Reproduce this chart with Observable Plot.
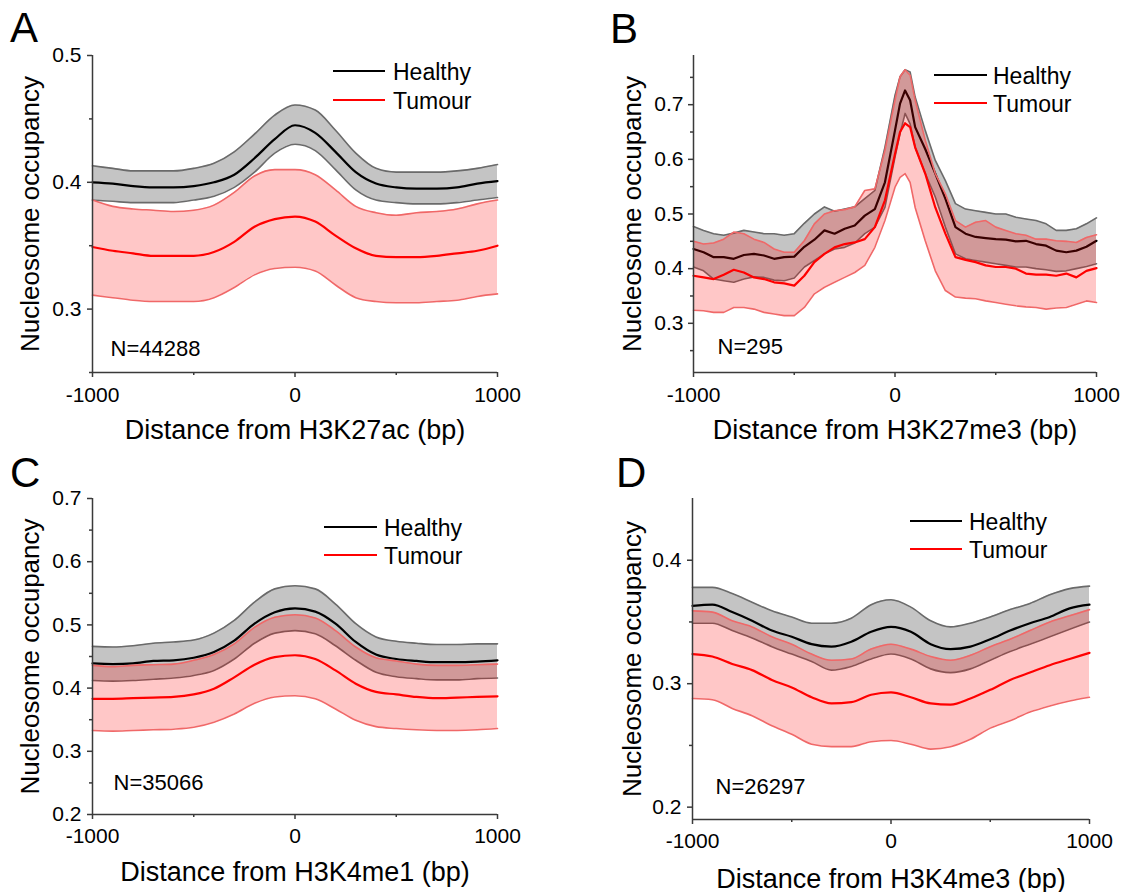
<!DOCTYPE html>
<html><head><meta charset="utf-8">
<script src="https://cdn.jsdelivr.net/npm/d3@7"></script>
<script src="https://cdn.jsdelivr.net/npm/@observablehq/plot@0.6"></script>
<style>
body{margin:0;background:#fff;}
#wrap{position:relative;width:1126px;height:892px;overflow:hidden;background:#fff;font-family:"Liberation Sans",Arial,sans-serif;}
#wrap svg{position:absolute;}
</style></head><body><div id="wrap"></div>
<script>
// ---------- data ----------
const seriesNames = ["Healthy", "Tumour"];
const xTicksMajor = [-1000, 0, 1000];
const xTicksMinor = [-500, 500];

const x100 = [-1000,-900,-800,-700,-600,-500,-400,-300,-200,-100,0,100,200,300,400,500,600,700,800,900,1000];

// Panel A: H3K27ac
const hA_mean  = [0.400,0.399,0.397,0.396,0.396,0.397,0.400,0.406,0.419,0.434,0.445,0.439,0.424,0.408,0.399,0.396,0.395,0.395,0.396,0.399,0.401];
const hA_upper = [0.413,0.411,0.409,0.409,0.409,0.411,0.415,0.424,0.438,0.453,0.461,0.457,0.441,0.423,0.411,0.408,0.408,0.408,0.409,0.411,0.414];
const hA_lower = [0.386,0.385,0.384,0.384,0.384,0.386,0.389,0.396,0.408,0.423,0.430,0.425,0.410,0.394,0.386,0.384,0.383,0.383,0.384,0.386,0.388];
const tA_mean  = [0.349,0.346,0.344,0.342,0.342,0.342,0.345,0.353,0.365,0.371,0.373,0.369,0.358,0.348,0.342,0.341,0.341,0.342,0.344,0.346,0.350];
const tA_upper = [0.386,0.381,0.379,0.378,0.377,0.378,0.382,0.392,0.405,0.410,0.410,0.406,0.394,0.381,0.376,0.374,0.376,0.377,0.379,0.383,0.386];
const tA_lower = [0.311,0.309,0.307,0.306,0.306,0.306,0.309,0.317,0.327,0.332,0.333,0.330,0.319,0.309,0.306,0.305,0.305,0.306,0.307,0.310,0.312];
const yA_major = [0.3, 0.4, 0.5];
const yA_minor = [0.25, 0.35, 0.45];

// Panel B: H3K27me3
const xB = [-1000,-950,-900,-850,-800,-750,-700,-650,-600,-550,-500,-450,-400,-350,-300,-250,-200,-150,-100,-50,0,25,50,75,100,150,200,250,300,350,400,450,500,550,600,650,700,750,800,850,900,950,1000];
const hB_mean  = [0.436,0.430,0.421,0.421,0.418,0.425,0.427,0.424,0.418,0.421,0.422,0.440,0.453,0.470,0.464,0.473,0.479,0.497,0.509,0.558,0.653,0.702,0.726,0.708,0.659,0.619,0.574,0.528,0.476,0.464,0.458,0.456,0.454,0.453,0.450,0.451,0.445,0.442,0.433,0.430,0.433,0.440,0.451];
const hB_upper = [0.477,0.470,0.464,0.461,0.465,0.470,0.467,0.464,0.464,0.461,0.464,0.483,0.500,0.513,0.505,0.509,0.513,0.528,0.543,0.622,0.717,0.751,0.764,0.760,0.714,0.653,0.598,0.561,0.519,0.509,0.506,0.503,0.500,0.500,0.494,0.491,0.488,0.482,0.470,0.470,0.473,0.482,0.493];
const hB_lower = [0.403,0.396,0.381,0.378,0.375,0.381,0.385,0.384,0.379,0.378,0.383,0.403,0.415,0.427,0.436,0.439,0.447,0.464,0.476,0.512,0.604,0.647,0.684,0.665,0.622,0.574,0.531,0.476,0.427,0.418,0.415,0.412,0.409,0.406,0.403,0.403,0.400,0.398,0.395,0.396,0.400,0.404,0.409];
const tB_mean  = [0.387,0.384,0.381,0.389,0.398,0.393,0.384,0.381,0.375,0.373,0.369,0.387,0.412,0.427,0.439,0.445,0.448,0.454,0.476,0.525,0.610,0.650,0.666,0.659,0.622,0.574,0.512,0.464,0.421,0.416,0.412,0.406,0.403,0.403,0.400,0.391,0.389,0.389,0.387,0.391,0.384,0.396,0.401];
const tB_upper = [0.450,0.445,0.447,0.454,0.467,0.464,0.454,0.448,0.436,0.430,0.430,0.451,0.482,0.500,0.506,0.508,0.513,0.543,0.546,0.616,0.708,0.751,0.764,0.754,0.708,0.635,0.574,0.537,0.488,0.476,0.485,0.488,0.476,0.470,0.464,0.461,0.454,0.454,0.451,0.450,0.448,0.457,0.462];
const tB_lower = [0.324,0.323,0.320,0.320,0.329,0.329,0.326,0.320,0.317,0.314,0.314,0.329,0.354,0.366,0.375,0.384,0.393,0.406,0.439,0.488,0.549,0.567,0.574,0.558,0.512,0.451,0.396,0.360,0.348,0.346,0.345,0.341,0.338,0.335,0.332,0.330,0.329,0.326,0.328,0.329,0.335,0.341,0.338];
const yB_major = [0.3, 0.4, 0.5, 0.6, 0.7];
const yB_minor = [0.25, 0.35, 0.45, 0.55, 0.65, 0.75];

// Panel C: H3K4me1
const hC_mean  = [0.439,0.438,0.439,0.443,0.444,0.448,0.457,0.475,0.502,0.520,0.526,0.521,0.502,0.473,0.453,0.446,0.443,0.441,0.441,0.442,0.444];
const hC_upper = [0.466,0.465,0.467,0.471,0.473,0.476,0.487,0.507,0.536,0.557,0.562,0.557,0.533,0.502,0.481,0.474,0.471,0.469,0.469,0.470,0.470];
const hC_lower = [0.412,0.411,0.412,0.414,0.416,0.420,0.428,0.446,0.471,0.487,0.491,0.486,0.467,0.444,0.425,0.418,0.415,0.413,0.413,0.415,0.416];
const tC_mean  = [0.383,0.383,0.384,0.385,0.386,0.390,0.399,0.417,0.437,0.449,0.452,0.446,0.428,0.407,0.394,0.390,0.386,0.384,0.385,0.386,0.387];
const tC_upper = [0.436,0.434,0.436,0.437,0.438,0.444,0.453,0.470,0.496,0.512,0.516,0.511,0.491,0.465,0.448,0.443,0.438,0.436,0.436,0.437,0.438];
const tC_lower = [0.333,0.332,0.333,0.334,0.335,0.338,0.346,0.359,0.376,0.386,0.388,0.383,0.367,0.349,0.339,0.336,0.334,0.333,0.333,0.334,0.336];
const yC_major = [0.2, 0.3, 0.4, 0.5, 0.6, 0.7];
const yC_minor = [0.25, 0.35, 0.45, 0.55, 0.65];

// Panel D: H3K4me3
const hD_mean  = [0.363,0.364,0.358,0.351,0.343,0.338,0.332,0.330,0.334,0.342,0.346,0.342,0.332,0.328,0.330,0.336,0.343,0.349,0.354,0.361,0.364];
const hD_upper = [0.378,0.378,0.373,0.366,0.359,0.354,0.349,0.349,0.353,0.364,0.368,0.362,0.351,0.346,0.349,0.354,0.360,0.365,0.372,0.377,0.379];
const hD_lower = [0.349,0.349,0.343,0.337,0.330,0.324,0.318,0.311,0.314,0.320,0.324,0.320,0.312,0.309,0.312,0.319,0.326,0.332,0.338,0.344,0.350];
const tD_mean  = [0.324,0.322,0.316,0.311,0.303,0.297,0.289,0.284,0.285,0.291,0.293,0.289,0.284,0.283,0.288,0.295,0.303,0.309,0.315,0.320,0.325];
const tD_upper = [0.359,0.358,0.351,0.346,0.338,0.332,0.324,0.319,0.320,0.328,0.332,0.328,0.322,0.319,0.323,0.330,0.336,0.343,0.350,0.355,0.360];
const tD_lower = [0.288,0.287,0.280,0.274,0.266,0.259,0.251,0.249,0.249,0.253,0.254,0.251,0.247,0.249,0.255,0.264,0.270,0.277,0.282,0.286,0.289];
const yD_major = [0.2, 0.3, 0.4];
const yD_minor = [0.25, 0.35];

// ---------- rendering ----------
const FONT = '"Liberation Sans", Arial, sans-serif';
const AXIS = "#3a3a3a";
const fmtY = d3.format(".1f");

const panels = [
  {letter:"A", left:0, top:0, x:x100, hm:hA_mean, hu:hA_upper, hl:hA_lower, tm:tA_mean, tu:tA_upper, tl:tA_lower,
   yDomain:[0.25,0.5], yMajor:yA_major, yMinor:yA_minor, curve:"monotone-x",
   m:{l:92,r:66,t:55,b:74}, xLabel:"Distance from H3K27ac (bp)", xLabelDy:66, yLabelDx:-62,
   nLabel:"N=44288", nDx:18, nDy:-17, xTickDy:15, yTickDx:-11,
   legend:{x1:333,x2:385,y1:71,y2:100,tx:393}, letterPos:[10,42]},
  {letter:"B", left:563, top:0, x:xB, hm:hB_mean, hu:hB_upper, hl:hB_lower, tm:tB_mean, tu:tB_upper, tl:tB_lower,
   yDomain:[0.21,0.79], yMajor:yB_major, yMinor:yB_minor, curve:"linear",
   m:{l:130,r:30,t:55,b:74}, xLabel:"Distance from H3K27me3 (bp)", xLabelDy:66, yLabelDx:-61,
   nLabel:"N=295", nDx:24, nDy:-19, xTickDy:15, yTickDx:-10,
   legend:{x1:371,x2:424,y1:75,y2:103,tx:430}, letterPos:[47,43]},
  {letter:"C", left:0, top:446, x:x100, hm:hC_mean, hu:hC_upper, hl:hC_lower, tm:tC_mean, tu:tC_upper, tl:tC_lower,
   yDomain:[0.2,0.7], yMajor:yC_major, yMinor:yC_minor, curve:"monotone-x",
   m:{l:92,r:66,t:52,b:78}, xLabel:"Distance from H3K4me1 (bp)", xLabelDy:66, yLabelDx:-62,
   nLabel:"N=35066", nDx:21, nDy:-25, xTickDy:14, yTickDx:-11,
   legend:{x1:324,x2:377,y1:81,y2:109,tx:384}, letterPos:[10,41]},
  {letter:"D", left:563, top:446, x:x100, hm:hD_mean, hu:hD_upper, hl:hD_lower, tm:tD_mean, tu:tD_upper, tl:tD_lower,
   yDomain:[0.19,0.45], yMajor:yD_major, yMinor:yD_minor, curve:"monotone-x",
   m:{l:129,r:37,t:52,b:73}, xLabel:"Distance from H3K4me3 (bp)", xLabelDy:68, yLabelDx:-60,
   nLabel:"N=26297", nDx:23, nDy:-26, xTickDy:14, yTickDx:-11,
   legend:{x1:347,x2:399,y1:75,y2:103,tx:406}, letterPos:[53,41]}
];

const wrap = document.getElementById("wrap");

for (const p of panels) {
  const rows = p.x.map((x, i) => ({x, hm:p.hm[i], hu:p.hu[i], hl:p.hl[i], tm:p.tm[i], tu:p.tu[i], tl:p.tl[i]}));
  const curve = p.curve;
  const svg = Plot.plot({
    width: 563, height: 446,
    marginLeft: p.m.l, marginRight: p.m.r, marginTop: p.m.t, marginBottom: p.m.b,
    style: {fontFamily: FONT, fontSize: "21px", background: "transparent", overflow: "visible", maxWidth: "none"},
    x: {domain: [-1000, 1000], axis: null},
    y: {domain: p.yDomain, axis: null},
    marks: [
      Plot.areaY(rows, {x:"x", y1:"hl", y2:"hu", fill:"#c4c4c4", curve}),
      Plot.lineY(rows, {x:"x", y:"hu", stroke:"#6a6a6a", strokeWidth:1.6, curve}),
      Plot.lineY(rows, {x:"x", y:"hl", stroke:"#6a6a6a", strokeWidth:1.6, curve}),
      Plot.lineY(rows, {x:"x", y:"hm", stroke:"#000", strokeWidth:2.2, curve}),
      Plot.areaY(rows, {x:"x", y1:"tl", y2:"tu", fill:"#ff0000", fillOpacity:0.22, curve}),
      Plot.lineY(rows, {x:"x", y:"tu", stroke:"#f06868", strokeWidth:1.6, curve}),
      Plot.lineY(rows, {x:"x", y:"tl", stroke:"#f06868", strokeWidth:1.6, curve}),
      Plot.lineY(rows, {x:"x", y:"tm", stroke:"#ff0000", strokeWidth:2.2, curve}),
      Plot.ruleX([-1000], {stroke: AXIS, strokeWidth: 1.5}),
      Plot.ruleY([p.yDomain[0]], {stroke: AXIS, strokeWidth: 1.5}),
      Plot.axisX({ticks: xTicksMajor, tickSize: 5, tickFormat: () => "", label: null, stroke: AXIS, strokeWidth: 1.5}),
      Plot.axisX({ticks: xTicksMinor, tickSize: 3, tickFormat: () => "", label: null, stroke: AXIS, strokeWidth: 1.5}),
      Plot.axisY({ticks: p.yMajor, tickSize: 5, tickFormat: () => "", label: null, stroke: AXIS, strokeWidth: 1.5}),
      Plot.axisY({ticks: p.yMinor, tickSize: 3, tickFormat: () => "", label: null, stroke: AXIS, strokeWidth: 1.5}),
      // tick labels
      Plot.text(xTicksMajor, {x: d => d, text: d => String(d), frameAnchor: "bottom", lineAnchor: "top", textAnchor: "middle",
                              dy: p.xTickDy, fontSize: 21, fill: "#000"}),
      Plot.text(p.yMajor, {y: d => d, text: d => fmtY(d), frameAnchor: "left", lineAnchor: "middle", textAnchor: "end",
                           dx: p.yTickDx, fontSize: 21, fill: "#000"}),
      // titles
      Plot.text([p.xLabel], {frameAnchor: "bottom", lineAnchor: "bottom", textAnchor: "middle", dy: p.xLabelDy, fontSize: 27, fill: "#000"}),
      Plot.text(["Nucleosome occupancy"], {frameAnchor: "left", rotate: -90, lineAnchor: "middle", textAnchor: "middle", dx: p.yLabelDx, fontSize: 26, fill: "#000"}),
      Plot.text([p.nLabel], {frameAnchor: "bottom-left", textAnchor: "start", lineAnchor: "bottom", dx: p.nDx, dy: p.nDy, fontSize: 22, fill: "#000"})
    ]
  });
  svg.style.left = p.left + "px";
  svg.style.top = p.top + "px";
  const s = d3.select(svg);
  const lg = s.append("g").attr("font-family", FONT).attr("font-size", 23).attr("text-anchor", "start");
  const L = p.legend;
  const legendColors = ["#000", "#ff0000"];
  seriesNames.forEach((name, i) => {
    const y = i === 0 ? L.y1 : L.y2;
    lg.append("line").attr("x1", L.x1).attr("x2", L.x2).attr("y1", y).attr("y2", y)
      .attr("stroke", legendColors[i]).attr("stroke-width", 2.2);
    lg.append("text").attr("x", L.tx).attr("y", y + 9).attr("fill", "#000").attr("text-anchor", "start").text(name);
  });
  s.append("text").attr("x", p.letterPos[0]).attr("y", p.letterPos[1]).attr("text-anchor", "start")
    .attr("font-family", FONT).attr("font-size", 42).attr("fill", "#000").text(p.letter);
  wrap.appendChild(svg);
}
</script>
</body></html>
